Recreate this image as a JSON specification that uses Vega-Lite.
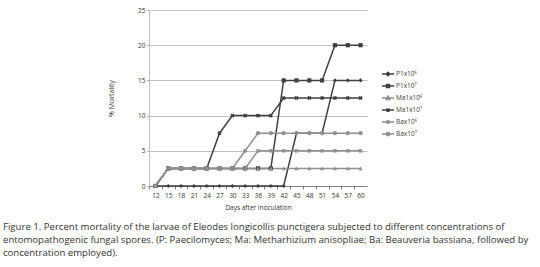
{
  "$schema": "https://vega.github.io/schema/vega-lite/v6.json",
  "width": 218,
  "height": 176,
  "autosize": "none",
  "padding": {"left": 149, "top": 10, "right": 173, "bottom": 81},
  "background": "white",
  "config": {
    "view": {"stroke": null},
    "font": "Open Sans",
    "axis": {"labelFont": "Open Sans", "titleFont": "Open Sans"},
    "legend": {"labelFont": "Open Sans"}
  },
  "title": {
    "text": [
      "Figure 1. Percent mortality of the larvae of Eleodes longicollis punctigera subjected to different concentrations of",
      "entomopathogenic fungal spores. (P: Paecilomyces; Ma: Metharhizium anisopliae; Ba: Beauveria bassiana, followed by",
      "concentration employed)."
    ],
    "orient": "bottom",
    "anchor": "start",
    "frame": "group",
    "dx": -146,
    "offset": 11,
    "fontSize": 9.6,
    "fontWeight": "normal",
    "color": "#333333",
    "lineHeight": 13
  },
  "data": {
    "values": [
      {"d": "12", "P1x10⁶": 0, "P1x10⁷": 0, "Ma1x10⁶": 0, "Ma1x10⁷": 0, "Bax10⁶": 0, "Bax10⁷": 0},
      {"d": "15", "P1x10⁶": 0, "P1x10⁷": 2.5, "Ma1x10⁶": 2.5, "Ma1x10⁷": 2.5, "Bax10⁶": 2.5, "Bax10⁷": 2.5},
      {"d": "18", "P1x10⁶": 0, "P1x10⁷": 2.5, "Ma1x10⁶": 2.5, "Ma1x10⁷": 2.5, "Bax10⁶": 2.5, "Bax10⁷": 2.5},
      {"d": "21", "P1x10⁶": 0, "P1x10⁷": 2.5, "Ma1x10⁶": 2.5, "Ma1x10⁷": 2.5, "Bax10⁶": 2.5, "Bax10⁷": 2.5},
      {"d": "24", "P1x10⁶": 0, "P1x10⁷": 2.5, "Ma1x10⁶": 2.5, "Ma1x10⁷": 2.5, "Bax10⁶": 2.5, "Bax10⁷": 2.5},
      {"d": "27", "P1x10⁶": 0, "P1x10⁷": 2.5, "Ma1x10⁶": 2.5, "Ma1x10⁷": 7.5, "Bax10⁶": 2.5, "Bax10⁷": 2.5},
      {"d": "30", "P1x10⁶": 0, "P1x10⁷": 2.5, "Ma1x10⁶": 2.5, "Ma1x10⁷": 10, "Bax10⁶": 2.5, "Bax10⁷": 2.5},
      {"d": "33", "P1x10⁶": 0, "P1x10⁷": 2.5, "Ma1x10⁶": 2.5, "Ma1x10⁷": 10, "Bax10⁶": 2.5, "Bax10⁷": 5},
      {"d": "36", "P1x10⁶": 0, "P1x10⁷": 2.5, "Ma1x10⁶": 2.5, "Ma1x10⁷": 10, "Bax10⁶": 5, "Bax10⁷": 7.5},
      {"d": "39", "P1x10⁶": 0, "P1x10⁷": 2.5, "Ma1x10⁶": 2.5, "Ma1x10⁷": 10, "Bax10⁶": 5, "Bax10⁷": 7.5},
      {"d": "42", "P1x10⁶": 0, "P1x10⁷": 15, "Ma1x10⁶": 2.5, "Ma1x10⁷": 12.5, "Bax10⁶": 5, "Bax10⁷": 7.5},
      {"d": "45", "P1x10⁶": 7.5, "P1x10⁷": 15, "Ma1x10⁶": 2.5, "Ma1x10⁷": 12.5, "Bax10⁶": 5, "Bax10⁷": 7.5},
      {"d": "48", "P1x10⁶": 7.5, "P1x10⁷": 15, "Ma1x10⁶": 2.5, "Ma1x10⁷": 12.5, "Bax10⁶": 5, "Bax10⁷": 7.5},
      {"d": "51", "P1x10⁶": 7.5, "P1x10⁷": 15, "Ma1x10⁶": 2.5, "Ma1x10⁷": 12.5, "Bax10⁶": 5, "Bax10⁷": 7.5},
      {"d": "54", "P1x10⁶": 15, "P1x10⁷": 20, "Ma1x10⁶": 2.5, "Ma1x10⁷": 12.5, "Bax10⁶": 5, "Bax10⁷": 7.5},
      {"d": "57", "P1x10⁶": 15, "P1x10⁷": 20, "Ma1x10⁶": 2.5, "Ma1x10⁷": 12.5, "Bax10⁶": 5, "Bax10⁷": 7.5},
      {"d": "60", "P1x10⁶": 15, "P1x10⁷": 20, "Ma1x10⁶": 2.5, "Ma1x10⁷": 12.5, "Bax10⁶": 5, "Bax10⁷": 7.5}
    ]
  },
  "transform": [
    {"fold": ["P1x10⁶", "P1x10⁷", "Ma1x10⁶", "Ma1x10⁷", "Bax10⁶", "Bax10⁷"], "as": ["s", "v"]}
  ],
  "encoding": {
    "x": {
      "field": "d",
      "type": "ordinal",
      "sort": null,
      "scale": {"type": "point", "padding": 0.5},
      "axis": {
        "title": "Days after inoculation",
        "titleFontSize": 6.5,
        "titleFontWeight": "normal",
        "titleColor": "#333333",
        "titlePadding": 6,
        "labelAngle": 0,
        "labelFontSize": 6.5,
        "labelColor": "#333333",
        "labelPadding": 3,
        "tickOffset": -6.41,
        "labelOffset": 6.41,
        "tickSize": 3,
        "tickColor": "#808080",
        "domainColor": "#808080",
        "grid": false
      }
    },
    "y": {
      "field": "v",
      "type": "quantitative",
      "scale": {"domain": [0, 25]},
      "axis": {
        "title": "% Mortality",
        "titleFontSize": 7,
        "titleFontWeight": "normal",
        "titleColor": "#333333",
        "titlePadding": 23,
        "values": [0, 5, 10, 15, 20, 25],
        "labelFontSize": 6.5,
        "labelColor": "#333333",
        "labelPadding": 2,
        "tickSize": 2,
        "tickColor": "#a0a0a0",
        "domainColor": "#c0c0c0",
        "gridColor": "#bfbfbf",
        "gridWidth": 1
      }
    }
  },
  "layer": [
    {
      "mark": {"type": "line", "strokeWidth": 1.5},
      "encoding": {
        "color": {
          "field": "s",
          "type": "nominal",
          "scale": {
            "domain": ["P1x10⁶", "P1x10⁷", "Ma1x10⁶", "Ma1x10⁷", "Bax10⁶", "Bax10⁷"],
            "range": ["#404040", "#404040", "#909090", "#404040", "#909090", "#909090"]
          },
          "legend": {
            "orient": "none",
            "legendX": 232,
            "legendY": 57,
            "title": null,
            "symbolSize": 144,
            "symbolStrokeWidth": 1.5,
            "labelFontSize": 6.5,
            "labelColor": "#404040",
            "labelOffset": 1,
            "rowPadding": 0,
            "encode": {
              "symbols": {
                "update": {
                  "shape": {"signal": "datum.value==='P1x10⁶' ? 'M-1,0H1M0,-0.3L0.3,0L0,0.3L-0.3,0Z' : datum.value==='P1x10⁷' ? 'M-1,0H1M-0.25,-0.25H0.25V0.25H-0.25Z' : datum.value==='Ma1x10⁶' ? 'M-1,0H1M0,-0.3L0.3,0.25H-0.3Z' : datum.value==='Ma1x10⁷' ? 'M-1,0H1M-0.25,-0.25L0.25,0.25M-0.25,0.25L0.25,-0.25' : datum.value==='Bax10⁶' ? 'M-1,0H1M-0.25,-0.25L0.25,0.25M-0.25,0.25L0.25,-0.25M0,-0.3V0.3' : 'M-1,0H1M0.27,0A0.27,0.27,0,1,1,-0.27,0A0.27,0.27,0,1,1,0.27,0Z'"},
                  "fill": {"signal": "scale('color', datum.value)"},
                  "stroke": {"signal": "scale('color', datum.value)"},
                  "fillOpacity": {"value": 1},
                  "strokeWidth": {"value": 1.5}
                }
              }
            }
          }
        }
      }
    },
    {
      "mark": {"type": "point", "filled": true, "size": 18, "opacity": 1},
      "encoding": {
        "shape": {
          "condition": [
            {"test": "datum.s==='P1x10⁶'", "value": "diamond"},
            {"test": "datum.s==='P1x10⁷'", "value": "square"},
            {"test": "datum.s==='Ma1x10⁶'", "value": "triangle-up"},
            {"test": "datum.s==='Bax10⁷'", "value": "circle"}
          ],
          "value": "cross"
        },
        "angle": {
          "condition": {"test": "datum.s==='Ma1x10⁷' || datum.s==='Bax10⁶'", "value": 45},
          "value": 0
        },
        "color": {
          "condition": {"test": "datum.s==='Ma1x10⁶' || datum.s==='Bax10⁶' || datum.s==='Bax10⁷'", "value": "#909090"},
          "value": "#404040"
        }
      }
    }
  ]
}
